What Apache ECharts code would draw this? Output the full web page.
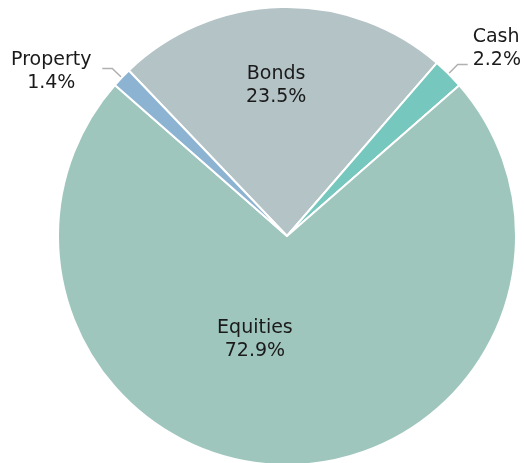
<!DOCTYPE html>
<html>
<head>
<meta charset="utf-8">
<script src="https://cdn.jsdelivr.net/npm/echarts@6/dist/echarts.min.js"></script>
<style>
    html, body { margin: 0; padding: 0; background: #fff; }
    #main { width: 524px; height: 463px; }
</style>
</head>
<body>
<div id="main"></div>
<script>
    // asset allocation shares (%)
    const categories = ['Bonds', 'Cash', 'Equities', 'Property'];
    const shares = [23.5, 2.2, 72.9, 1.4];
    const colors = ['#b4c3c6', '#76c7be', '#9fc6bd', '#8db3d2'];
    const outsideNames = ['Cash', 'Property'];

    // nudges for label placement, by slice
    const labelShift = {
        Bonds: [-8, -33],
        Equities: [-32, -14],
        Cash: [0, -16],
        Property: [-4, 3]
    };

    let pieData = categories.map((name, i) => {
        let item = {
            name: name,
            value: shares[i],
            itemStyle: { color: colors[i] }
        };
        if (outsideNames.indexOf(name) >= 0) {
            item.label = { position: 'outside' };
            item.labelLine = { show: true };
        } else {
            item.label = { position: 'inside' };
            item.labelLine = { show: false };
        }
        return item;
    });

    let option = {
        animation: false,
        series: [{
            type: 'pie',
            center: [287, 236],
            radius: 229,
            startAngle: 133.7,
            clockwise: true,
            percentPrecision: 1,
            avoidLabelOverlap: false,
            itemStyle: {
                borderColor: '#fff',
                borderWidth: 2
            },
            label: {
                formatter: function (p) {
                    let tag = p.name === 'Cash' ? 'l' : 'c';
                    return '{' + tag + '|' + p.name + '}\n{' + tag + '|' + p.percent.toFixed(1) + '%}';
                },
                rich: {
                    c: {
                        width: 84,
                        align: 'center',
                        fontFamily: 'DejaVu Sans',
                        fontSize: 19,
                        lineHeight: 23,
                        color: '#1a1a1a'
                    },
                    l: {
                        fontFamily: 'DejaVu Sans',
                        fontSize: 19,
                        lineHeight: 23,
                        color: '#1a1a1a'
                    }
                }
            },
            labelLine: {
                length: 13,
                length2: 10,
                lineStyle: { color: '#b0b0b0', width: 1.5 }
            },
            labelLayout: function (params) {
                let s = labelShift[categories[params.dataIndex]];
                return { dx: s[0], dy: s[1] };
            },
            data: pieData
        }]
    };

    let myChart = echarts.init(document.getElementById('main'));
    myChart.setOption(option);
</script>
</body>
</html>
